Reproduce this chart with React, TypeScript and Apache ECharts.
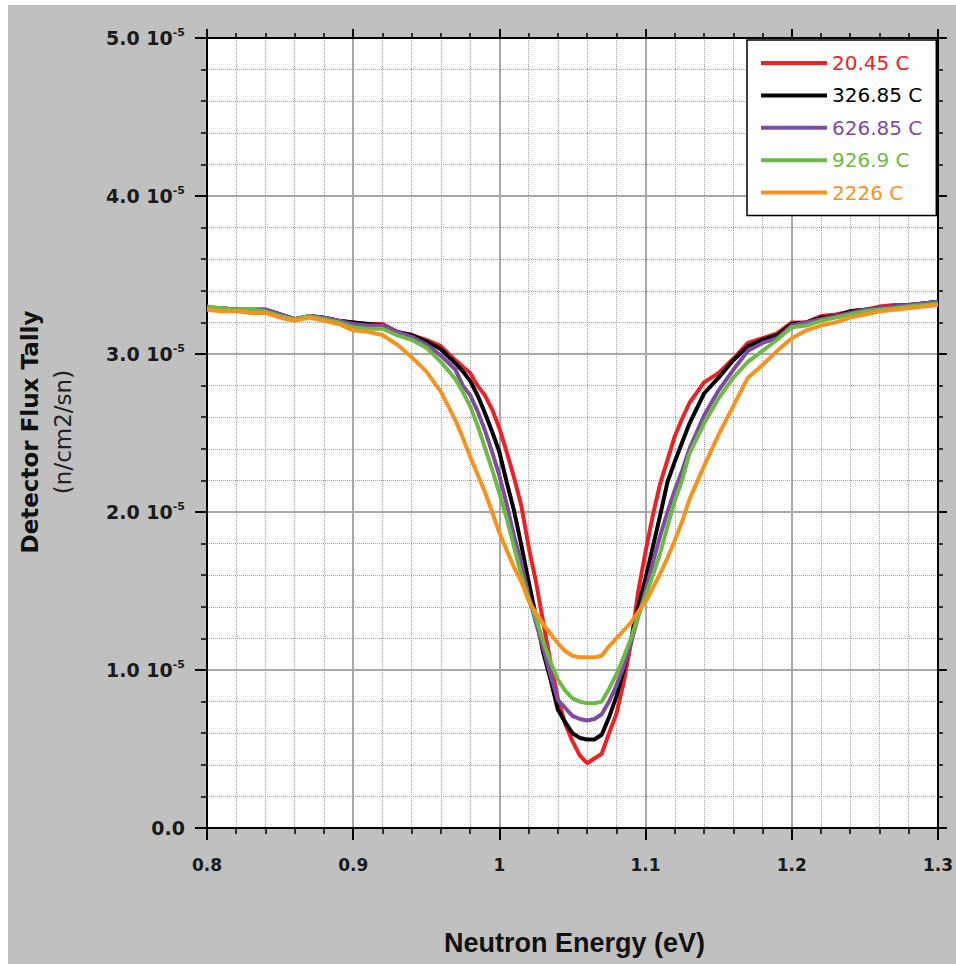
import React, { useEffect, useRef } from "react";
import * as echarts from "echarts";

// Neutron energy (eV)
const ENERGY = [
  0.8, 0.81, 0.82, 0.83, 0.84, 0.85, 0.86, 0.87, 0.88, 0.89, 0.9, 0.91, 0.92, 0.93, 0.94, 0.95, 0.96,
  0.97, 0.975, 0.98, 0.985, 0.99, 0.995, 1.0, 1.005, 1.01, 1.015, 1.02, 1.025, 1.03, 1.035, 1.04, 1.045,
  1.05, 1.055, 1.06, 1.065, 1.07, 1.075, 1.08, 1.085, 1.09, 1.095, 1.1, 1.105, 1.11, 1.115, 1.12, 1.125, 1.13,
  1.14, 1.15, 1.16, 1.17, 1.18, 1.19, 1.2, 1.21, 1.22, 1.23, 1.24, 1.25, 1.26, 1.27, 1.28, 1.29, 1.3,
];

// Detector flux tally, in units of 1e-5 n/cm2/sn
const FLUX_20C = [
  3.29, 3.29, 3.28, 3.28, 3.28, 3.25, 3.22, 3.24, 3.23, 3.21, 3.2, 3.19, 3.19, 3.14, 3.12, 3.09, 3.05,
  2.96, 2.92, 2.88, 2.8, 2.74, 2.65, 2.53, 2.38, 2.22, 2.04, 1.78, 1.56, 1.3, 1.05, 0.82, 0.66,
  0.55, 0.46, 0.41, 0.44, 0.47, 0.6, 0.72, 0.92, 1.17, 1.5, 1.75, 1.98, 2.18, 2.33, 2.48, 2.59, 2.69,
  2.82, 2.88, 2.97, 3.07, 3.1, 3.13, 3.2, 3.2, 3.24, 3.25, 3.27, 3.28, 3.3, 3.31, 3.31, 3.32, 3.33,
];
const FLUX_327C = [
  3.29, 3.29, 3.28, 3.28, 3.28, 3.25, 3.22, 3.24, 3.23, 3.21, 3.2, 3.19, 3.18, 3.14, 3.12, 3.08, 3.03,
  2.94, 2.89, 2.83, 2.74, 2.63, 2.51, 2.38, 2.19, 2.01, 1.79, 1.56, 1.34, 1.11, 0.94, 0.75, 0.67,
  0.6, 0.57, 0.56, 0.56, 0.59, 0.7, 0.83, 1.0, 1.19, 1.4, 1.58, 1.78, 1.98, 2.19, 2.32, 2.44, 2.56,
  2.75, 2.85, 2.96, 3.05, 3.09, 3.12, 3.19, 3.2, 3.23, 3.24, 3.27, 3.28, 3.29, 3.3, 3.31, 3.32, 3.33,
];
const FLUX_627C = [
  3.29, 3.29, 3.28, 3.28, 3.28, 3.25, 3.22, 3.24, 3.23, 3.21, 3.19, 3.18, 3.18, 3.14, 3.11, 3.06, 2.99,
  2.9, 2.8, 2.74, 2.64, 2.52, 2.38, 2.23, 2.05, 1.85, 1.68, 1.47, 1.3, 1.14, 0.97, 0.81, 0.76,
  0.71, 0.69, 0.68, 0.69, 0.72, 0.8, 0.9, 1.02, 1.17, 1.34, 1.5, 1.68, 1.85, 2.0, 2.14, 2.26, 2.4,
  2.61, 2.77, 2.9, 3.02, 3.07, 3.1, 3.18, 3.2, 3.22, 3.24, 3.26, 3.28, 3.29, 3.3, 3.31, 3.32, 3.33,
];
const FLUX_927C = [
  3.3, 3.29, 3.28, 3.28, 3.27, 3.24, 3.22, 3.24, 3.22, 3.2, 3.17, 3.16, 3.16, 3.12, 3.09, 3.04, 2.95,
  2.84, 2.76, 2.67, 2.55, 2.41, 2.27, 2.12, 1.96, 1.78, 1.6, 1.45, 1.33, 1.18, 1.05, 0.94, 0.87,
  0.82, 0.8, 0.79, 0.79, 0.8, 0.88, 0.97, 1.08, 1.2, 1.34, 1.47, 1.6, 1.74, 1.91, 2.07, 2.2, 2.37,
  2.56, 2.72, 2.85, 2.95, 3.02, 3.09, 3.17, 3.18, 3.21, 3.23, 3.25, 3.27, 3.28, 3.29, 3.3, 3.31, 3.32,
];
const FLUX_2226C = [
  3.28, 3.27, 3.27, 3.26, 3.26, 3.23, 3.21, 3.23, 3.21, 3.19, 3.15, 3.14, 3.12, 3.06, 2.98, 2.89, 2.76,
  2.58, 2.47, 2.35, 2.24, 2.13, 2.0, 1.87, 1.76, 1.65, 1.56, 1.44, 1.36, 1.29, 1.23, 1.17, 1.12,
  1.09, 1.08, 1.08, 1.08, 1.09, 1.15, 1.2, 1.25, 1.3, 1.37, 1.43, 1.52, 1.61, 1.71, 1.82, 1.94, 2.08,
  2.29, 2.49, 2.67, 2.85, 2.93, 3.02, 3.1, 3.15, 3.18, 3.2, 3.23, 3.25, 3.27, 3.28, 3.29, 3.3, 3.31,
];

const SERIES_NAMES = ["20.45 C", "326.85 C", "626.85 C", "926.9 C", "2226 C"];
const SERIES_COLORS = ["#ed2124", "#000000", "#7f4ba3", "#6cba45", "#f7921e"];
const SERIES_VALUES = [FLUX_20C, FLUX_327C, FLUX_627C, FLUX_927C, FLUX_2226C];

const X_TITLE = "Neutron Energy (eV)";
const Y_TITLE_1 = "Detector Flux Tally";
const Y_TITLE_2 = "(n/cm2/sn)";

export default function App() {
  const ref = useRef<HTMLDivElement>(null);

  useEffect(() => {
    if (!ref.current) return;
    const chart = echarts.init(ref.current, null, { renderer: "svg" });
    const axisLineStyle = { color: "#000", width: 2 };
    const xBase = { type: "value", min: 0.8, max: 1.3, interval: 0.1 };
    const yBase = { type: "value", min: 0, max: 5, interval: 1 };

    chart.setOption({
      animation: false,
      backgroundColor: "transparent",
      grid: {
        left: 199,
        right: 13,
        top: 33,
        bottom: 136,
        show: true,
        backgroundColor: "#ffffff",
        borderWidth: 0,
      },
      legend: {
        orient: "vertical",
        left: 739,
        top: 35,
        padding: [13, 14, 13, 14],
        backgroundColor: "#ffffff",
        borderColor: "#000",
        borderWidth: 1.5,
        borderRadius: 0,
        itemWidth: 66,
        itemHeight: 4,
        itemGap: 12.4,
        icon: "rect",
        selectedMode: false,
        textStyle: { fontFamily: "DejaVu Sans", fontSize: 20, lineHeight: 20 },
        data: SERIES_NAMES.map((n, i) => ({ name: n, textStyle: { color: SERIES_COLORS[i] } })),
      },
      xAxis: [
        {
          ...xBase,
          position: "bottom",
          axisLine: { show: true, onZero: false, lineStyle: axisLineStyle },
          axisTick: { show: true, inside: false, length: 12, lineStyle: { color: "#000", width: 2 } },
          minorTick: { show: true, splitNumber: 5, length: 6, lineStyle: { color: "#000", width: 1.5 } },
          axisLabel: {
            show: true,
            margin: 28,
            showMinLabel: true,
            showMaxLabel: true,
            fontFamily: "DejaVu Sans",
            fontWeight: "bold",
            fontSize: 17,
            color: "#1a1a1a",
            formatter: (v: number) => String(Number(v.toFixed(1))),
          },
          splitLine: { show: true, lineStyle: { color: "#a8a8a8", width: 2 } },
          minorSplitLine: { show: true, lineStyle: { color: "#a0a0a0", width: 1, type: "dotted" } },
        },
        {
          ...xBase,
          position: "top",
          axisLine: { show: true, onZero: false, lineStyle: axisLineStyle },
          axisTick: { show: true, inside: false, length: 9, lineStyle: { color: "#000", width: 2 } },
          minorTick: { show: true, splitNumber: 5, length: 5, lineStyle: { color: "#000", width: 1.5 } },
          axisLabel: { show: false },
          splitLine: { show: false },
        },
      ],
      yAxis: [
        {
          ...yBase,
          position: "left",
          axisLine: { show: true, onZero: false, lineStyle: axisLineStyle },
          axisTick: { show: true, inside: false, length: 12, lineStyle: { color: "#000", width: 2 } },
          minorTick: { show: true, splitNumber: 5, length: 6, lineStyle: { color: "#000", width: 1.5 } },
          axisLabel: {
            show: true,
            margin: 22,
            showMinLabel: true,
            showMaxLabel: true,
            formatter: (v: number) => {
              const t = v.toFixed(1);
              return v === 0 ? `{b|${t}}` : `{b|${t} 10}{s|-5}`;
            },
            rich: {
              b: {
                fontFamily: "DejaVu Sans",
                fontWeight: "bold",
                fontSize: 19,
                color: "#1a1a1a",
                lineHeight: 22,
              },
              s: {
                fontFamily: "DejaVu Sans",
                fontWeight: "bold",
                fontSize: 11,
                color: "#1a1a1a",
                lineHeight: 10,
                verticalAlign: "top",
              },
            },
          },
          splitLine: { show: true, lineStyle: { color: "#a8a8a8", width: 2 } },
          minorSplitLine: { show: true, lineStyle: { color: "#a0a0a0", width: 1, type: "dotted" } },
        },
        {
          ...yBase,
          position: "right",
          axisLine: { show: true, onZero: false, lineStyle: axisLineStyle },
          axisTick: { show: true, inside: false, length: 9, lineStyle: { color: "#000", width: 2 } },
          minorTick: { show: true, splitNumber: 5, length: 5, lineStyle: { color: "#000", width: 1.5 } },
          axisLabel: { show: false },
          splitLine: { show: false },
        },
      ],
      series: SERIES_NAMES.map((name, i) => ({
        name,
        type: "line",
        xAxisIndex: 0,
        yAxisIndex: 0,
        data: ENERGY.map((e, k) => [e, SERIES_VALUES[i][k]]),
        showSymbol: false,
        symbol: "none",
        smooth: false,
        color: SERIES_COLORS[i],
        lineStyle: { color: SERIES_COLORS[i], width: 4 },
        emphasis: { disabled: true },
        z: 2 + i,
      })),
      graphic: [
        {
          type: "text",
          x: 566.5,
          y: 938,
          style: {
            text: X_TITLE,
            fontFamily: "Liberation Sans",
            fontWeight: "bold",
            fontSize: 27,
            fill: "#111",
            align: "center",
            verticalAlign: "middle",
          },
        },
        {
          type: "text",
          x: 22,
          y: 427,
          rotation: Math.PI / 2,
          style: {
            text: Y_TITLE_1,
            fontFamily: "DejaVu Sans",
            fontWeight: "bold",
            fontSize: 23,
            fill: "#111",
            align: "center",
            verticalAlign: "middle",
          },
        },
        {
          type: "text",
          x: 55,
          y: 427,
          rotation: Math.PI / 2,
          style: {
            text: Y_TITLE_2,
            fontFamily: "DejaVu Sans",
            fontWeight: "normal",
            fontSize: 23,
            fill: "#222",
            align: "center",
            verticalAlign: "middle",
          },
        },
      ],
    });
    return () => chart.dispose();
  }, []);

  return (
    <div
      ref={ref}
      style={{
        position: "absolute",
        left: 8,
        top: 5,
        width: 948,
        height: 959,
        background: "#c0c0c0",
      }}
    />
  );
}
